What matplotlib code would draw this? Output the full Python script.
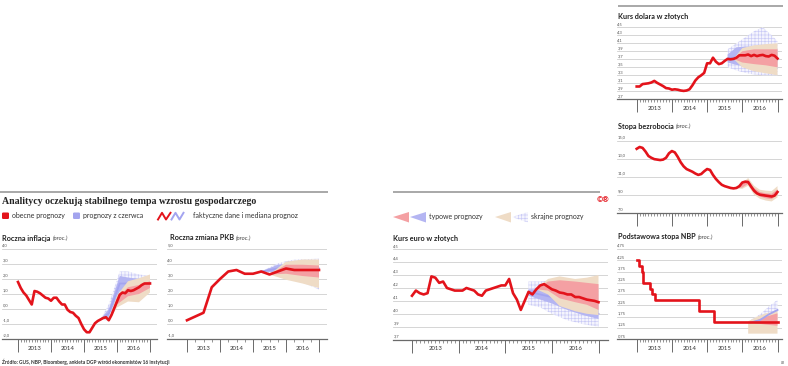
import matplotlib
matplotlib.use('Agg')
import matplotlib.pyplot as plt
import numpy as np
from matplotlib.patches import FancyBboxPatch, Polygon

plt.rcParams['font.family'] = ['Lato', 'DejaVu Sans']
plt.rcParams['hatch.linewidth'] = 0.45

# ---------------- data ----------------
years = [2013, 2014, 2015, 2016]

# monthly series, month 0 = start of 2013
inflacja = [1.8, 1.4, 1.1, 0.9, 0.6, 0.3, 1.2, 1.15, 1.05, 0.9, 0.75, 0.7,
            0.55, 0.75, 0.75, 0.5, 0.3, 0.3, -0.05, -0.2, -0.25, -0.45, -0.6, -1.0,
            -1.35, -1.55, -1.55, -1.25, -0.95, -0.8, -0.7, -0.6, -0.55, -0.75, -0.4, 0.05,
            0.5, 0.95, 1.1, 1.05, 1.25, 1.2, 1.25, 1.35, 1.45, 1.6, 1.7, 1.7, 1.7]
inf_cur_t = [33, 36, 40, 44, 48]
inf_cur_typ_lo = [-0.75, 0.3, 0.85, 1.0, 1.4]
inf_cur_typ_hi = [-0.75, 0.7, 1.45, 1.6, 1.85]
inf_cur_skr_lo = [-0.75, 0.1, 0.5, 0.45, 1.1]
inf_cur_skr_hi = [-0.75, 0.9, 1.85, 2.05, 2.3]
inf_jun_t = [30, 33, 37, 40, 44, 48]
inf_jun_med = [-0.7, -0.3, 1.7, 1.7, 1.7, 1.75]
inf_jun_typ_lo = [-0.7, -0.5, 1.2, 1.3, 1.3, 1.4]
inf_jun_typ_hi = [-0.7, 0.0, 2.2, 2.1, 2.0, 1.9]
inf_jun_skr_lo = [-0.7, -0.8, 0.8, 1.0, 1.0, 1.1]
inf_jun_skr_hi = [-0.7, 0.3, 2.5, 2.5, 2.3, 2.2]

# quarterly GDP, quarter 0 = start of 2013
pkb = [0.25, 0.5, 0.75, 2.45, 3.0, 3.5, 3.6, 3.35, 3.35, 3.5, 3.3, 3.5, 3.7, 3.6, 3.6, 3.6, 3.6]
pkb_cur_t = [10, 12, 14, 16]
pkb_cur_typ_lo = [3.3, 3.35, 3.2, 3.1]
pkb_cur_typ_hi = [3.3, 3.95, 3.95, 3.9]
pkb_cur_skr_lo = [3.3, 2.95, 2.7, 2.4]
pkb_cur_skr_hi = [3.3, 4.15, 4.3, 4.3]
pkb_jun_t = [9, 11, 13, 16]
pkb_jun_med = [3.5, 3.7, 3.75, 3.7]
pkb_jun_typ_lo = [3.5, 3.45, 3.4, 3.4]
pkb_jun_typ_hi = [3.5, 3.95, 4.05, 4.0]
pkb_jun_skr_lo = [3.5, 3.2, 3.0, 2.3]
pkb_jun_skr_hi = [3.5, 4.05, 4.3, 4.35]

euro = [4.14, 4.18, 4.16, 4.15, 4.16, 4.29, 4.28, 4.24, 4.25, 4.20, 4.19, 4.18,
        4.18, 4.18, 4.20, 4.19, 4.18, 4.15, 4.14, 4.18, 4.19, 4.20, 4.21, 4.22,
        4.22, 4.27, 4.16, 4.11, 4.03, 4.10, 4.17, 4.15, 4.19, 4.22, 4.23, 4.21,
        4.19, 4.18, 4.165, 4.16, 4.15, 4.15, 4.13, 4.13, 4.12, 4.11, 4.105, 4.10, 4.09]
eur_cur_t = [32, 35, 38, 42, 45, 48]
eur_cur_typ_lo = [4.19, 4.18, 4.12, 4.09, 4.07, 4.03]
eur_cur_typ_hi = [4.19, 4.25, 4.26, 4.25, 4.24, 4.23]
eur_cur_skr_lo = [4.19, 4.15, 4.06, 4.02, 4.00, 3.99]
eur_cur_skr_hi = [4.19, 4.27, 4.29, 4.27, 4.28, 4.30]
eur_jun_t = [30, 33, 36, 40, 44, 48]
eur_jun_med = [4.17, 4.15, 4.13, 4.08, 4.03, 4.0]
eur_jun_typ_lo = [4.14, 4.11, 4.08, 4.03, 3.99, 3.96]
eur_jun_typ_hi = [4.19, 4.19, 4.19, 4.17, 4.13, 4.10]
eur_jun_skr_lo = [4.07, 4.05, 4.0, 3.95, 3.92, 3.9]
eur_jun_skr_hi = [4.25, 4.25, 4.26, 4.25, 4.22, 4.2]

dolar = [3.02, 3.02, 3.08, 3.09, 3.10, 3.12, 3.16, 3.11, 3.07, 3.03, 2.98, 2.97,
         2.94, 2.95, 2.94, 2.92, 2.91, 2.92, 2.95, 3.05, 3.17, 3.25, 3.30, 3.36,
         3.60, 3.60, 3.74, 3.64, 3.58, 3.60, 3.66, 3.71, 3.70, 3.71, 3.74, 3.80,
         3.80, 3.80, 3.82, 3.78, 3.81, 3.78, 3.80, 3.81, 3.78, 3.77, 3.81, 3.79, 3.72]
usd_cur_t = [33, 36, 40, 44, 48]
usd_cur_typ_lo = [3.71, 3.62, 3.58, 3.55, 3.5]
usd_cur_typ_hi = [3.71, 3.9, 3.95, 3.95, 3.95]
usd_cur_skr_lo = [3.71, 3.5, 3.4, 3.35, 3.3]
usd_cur_skr_hi = [3.71, 3.98, 4.05, 4.08, 4.1]
usd_jun_t = [31, 34, 37, 40, 43, 46, 48]
usd_jun_med = [3.72, 3.75, 3.77, 3.76, 3.74, 3.72, 3.7]
usd_jun_typ_lo = [3.62, 3.56, 3.52, 3.5, 3.48, 3.46, 3.45]
usd_jun_typ_hi = [3.82, 4.0, 4.02, 4.02, 4.0, 3.98, 3.95]
usd_jun_skr_lo = [3.5, 3.42, 3.36, 3.32, 3.3, 3.3, 3.3]
usd_jun_skr_hi = [3.95, 4.1, 4.25, 4.4, 4.5, 4.3, 4.15]

bezrobocie = [14.1, 14.3, 14.2, 13.8, 13.3, 13.1, 12.95, 12.9, 12.85, 12.9, 13.1, 13.6,
              13.85, 13.7, 13.2, 12.6, 12.15, 11.85, 11.7, 11.55, 11.35, 11.2, 11.3, 11.6,
              11.85, 11.75, 11.2, 10.75, 10.4, 10.1, 9.95, 9.85, 9.75, 9.7, 9.75, 9.95,
              10.35, 10.45, 10.4, 9.9, 9.45, 9.15, 9.0, 8.95, 8.9, 8.85, 8.8, 8.9, 9.3]
bez_cur_t = [33, 36, 38, 40, 42, 44, 46, 48]
bez_cur_typ_lo = [9.7, 9.8, 10.2, 9.2, 8.8, 8.6, 8.5, 9.0]
bez_cur_typ_hi = [9.7, 10.15, 10.65, 9.75, 9.3, 9.15, 9.1, 9.6]
bez_cur_skr_lo = [9.7, 9.65, 10.0, 9.0, 8.55, 8.35, 8.25, 8.7]
bez_cur_skr_hi = [9.7, 10.3, 10.85, 10.0, 9.55, 9.45, 9.4, 9.95]

nbp_change_m = [0, 0.9, 1.7, 2.3, 4.5, 5.3, 6.25, 21.4, 26.5, 48]
nbp_rate = [4.25, 4.0, 3.75, 3.25, 3.0, 2.75, 2.5, 2.0, 1.5, 1.5]
nbp_cur_t = [38, 41, 44, 48]
nbp_cur_typ_lo = [1.5, 1.45, 1.4, 1.35]
nbp_cur_typ_hi = [1.5, 1.6, 1.75, 1.9]
nbp_cur_skr_lo = [1.0, 1.0, 1.0, 1.0]
nbp_cur_skr_hi = [1.55, 1.75, 1.9, 2.0]
nbp_jun_t = [39, 42, 45, 48]
nbp_jun_med = [1.5, 1.6, 1.85, 2.05]
nbp_jun_skr_lo = [1.4, 1.4, 1.4, 1.4]
nbp_jun_skr_hi = [1.62, 1.85, 2.2, 2.5]

# ---------------- style ----------------
RED = '#e3131b'; PINK = '#f4a0a3'; BEIGE = '#efdcc6'; BLUE = '#b4b5f2'
HATCHC = '#c9caf6'; HFACE = '#f4f4fd'; BLUEL = '#a3a4f0'; GRID = '#cfcfcf'; AXC = '#6a6a6a'
TXT = '#333333'

W, H = 788, 366
fig = plt.figure(figsize=(W / 100, H / 100), dpi=100)
ov = fig.add_axes([0, 0, 1, 1])
ov.set_xlim(0, W); ov.set_ylim(H, 0); ov.axis('off')


def mt(m):
    return 2013 + np.asarray(m, dtype=float) / 12


def qt(q):
    return 2013 + np.asarray(q, dtype=float) / 4


def panel(gx0, gx1, ytop, ybot, a, b, vals, labels, minor_step, show_years=True):
    vtop, vbot = vals[0], vals[-1]
    ax = fig.add_axes([gx0 / W, 1 - ybot / H, (gx1 - gx0) / W, (ybot - ytop) / H])
    x0 = 2013 + (gx0 - a) / (b - a) * 4
    x1 = 2013 + (gx1 - a) / (b - a) * 4
    ax.set_xlim(x0, x1); ax.set_ylim(vbot, vtop)
    ax.patch.set_visible(False)
    for s in ('top', 'left', 'right'):
        ax.spines[s].set_visible(False)
    ax.spines['bottom'].set_color(AXC); ax.spines['bottom'].set_linewidth(0.9)
    ax.set_yticks([])
    ax.set_xticks(np.arange(2013, 2018)); ax.set_xticklabels([])
    minors = [m for m in np.arange(2013, 2017.0001, minor_step) if abs(m - round(m)) > 1e-6]
    ax.set_xticks(minors, minor=True)
    ax.tick_params(axis='x', which='major', length=9, width=0.7, color=AXC)
    ax.tick_params(axis='x', which='minor', length=2.3, width=0.5, color=AXC)
    for v, lab in zip(vals, labels):
        if v != vbot:
            ax.axhline(v, color=GRID, lw=0.6, zorder=0)
        ax.annotate(lab, (0, v), xycoords=('axes fraction', 'data'), xytext=(0.3, 0.9),
                    textcoords='offset points', fontsize=3, color='#555555',
                    va='bottom', ha='left')
    if show_years:
        for yv in years:
            ax.annotate(str(yv), (yv + 0.5, 0), xycoords=('data', 'axes fraction'),
                        xytext=(0, -6.6), textcoords='offset points', ha='center',
                        va='center', fontsize=4.3, color=TXT)
    return ax


def fill(ax, t, lo, hi, kind, z):
    if kind == 'hatch':
        ax.fill_between(t, lo, hi, facecolor=HFACE, edgecolor=HATCHC, hatch='+++++',
                        linewidth=0, zorder=z)
    else:
        ax.fill_between(t, lo, hi, facecolor=kind, linewidth=0, zorder=z)


LW = 1.9

# ---- Roczna inflacja
ax = panel(2, 157, 249, 339, 18, 150, [4, 3, 2, 1, 0, -1, -2],
           ['4,0', '3,0', '2,0', '1,0', '0,0', '-1,0', '-2,0'], 1 / 12)
fill(ax, mt(inf_jun_t), inf_jun_skr_lo, inf_jun_skr_hi, 'hatch', 1)
fill(ax, mt(inf_jun_t), inf_jun_typ_lo, inf_jun_typ_hi, BLUE, 2)
ax.plot(mt(inf_jun_t), inf_jun_med, color=BLUEL, lw=1.3, zorder=2.5)
fill(ax, mt(inf_cur_t), inf_cur_skr_lo, inf_cur_skr_hi, BEIGE, 3)
fill(ax, mt(inf_cur_t), inf_cur_typ_lo, inf_cur_typ_hi, PINK, 4)
ax.plot(mt(range(len(inflacja))), inflacja, color=RED, lw=LW, zorder=6, solid_joinstyle='round')

# ---- Roczna zmiana PKB
ax = panel(167, 327, 249, 339, 187, 319, [5, 4, 3, 2, 1, 0, -1],
           ['5,0', '4,0', '3,0', '2,0', '1,0', '0,0', '-1,0'], 0.25)
fill(ax, qt(pkb_jun_t), pkb_jun_skr_lo, pkb_jun_skr_hi, 'hatch', 1)
fill(ax, qt(pkb_jun_t), pkb_jun_typ_lo, pkb_jun_typ_hi, BLUE, 2)
ax.plot(qt(pkb_jun_t), pkb_jun_med, color=BLUEL, lw=1.3, zorder=2.5)
fill(ax, qt(pkb_cur_t), pkb_cur_skr_lo, pkb_cur_skr_hi, BEIGE, 3)
fill(ax, qt(pkb_cur_t), pkb_cur_typ_lo, pkb_cur_typ_hi, PINK, 4)
ax.plot(qt(range(len(pkb))), pkb, color=RED, lw=LW, zorder=6, solid_joinstyle='round')

# ---- Kurs euro
ax = panel(393, 608, 249.3, 339.6, 412, 598.5, [4.5, 4.4, 4.3, 4.2, 4.1, 4.0, 3.9, 3.8],
           ['4,5', '4,4', '4,3', '4,2', '4,1', '4,0', '3,9', '3,7'], 1 / 12)
fill(ax, mt(eur_jun_t), eur_jun_skr_lo, eur_jun_skr_hi, 'hatch', 1)
fill(ax, mt(eur_jun_t), eur_jun_typ_lo, eur_jun_typ_hi, BLUE, 2)
ax.plot(mt(eur_jun_t), eur_jun_med, color=BLUEL, lw=1.3, zorder=2.5)
fill(ax, mt(eur_cur_t), eur_cur_skr_lo, eur_cur_skr_hi, BEIGE, 3)
fill(ax, mt(eur_cur_t), eur_cur_typ_lo, eur_cur_typ_hi, PINK, 4)
ax.plot(mt(range(len(euro))), euro, color=RED, lw=LW, zorder=6, solid_joinstyle='round')

# ---- Kurs dolara
ax = panel(617, 782, 27.3, 99.3, 636.7, 777.5,
           [4.5, 4.3, 4.1, 3.9, 3.7, 3.5, 3.3, 3.1, 2.9, 2.7],
           ['4,5', '4,3', '4,1', '3,9', '3,7', '3,5', '3,3', '3,1', '2,9', '2,7'], 1 / 12)
fill(ax, mt(usd_jun_t), usd_jun_skr_lo, usd_jun_skr_hi, 'hatch', 1)
fill(ax, mt(usd_jun_t), usd_jun_typ_lo, usd_jun_typ_hi, BLUE, 2)
ax.plot(mt(usd_jun_t), usd_jun_med, color=BLUEL, lw=1.3, zorder=2.5)
fill(ax, mt(usd_cur_t), usd_cur_skr_lo, usd_cur_skr_hi, BEIGE, 3)
fill(ax, mt(usd_cur_t), usd_cur_typ_lo, usd_cur_typ_hi, PINK, 4)
ax.plot(mt(range(len(dolar))), dolar, color=RED, lw=LW, zorder=6, solid_joinstyle='round')

# ---- Stopa bezrobocia
ax = panel(617, 782, 140.7, 212.7, 636.7, 777.5, [15, 13, 11, 9, 7],
           ['15,0', '13,0', '11,0', '9,0', '7,0'], 1 / 12, show_years=False)
fill(ax, mt(bez_cur_t), bez_cur_skr_lo, bez_cur_skr_hi, BEIGE, 3)
fill(ax, mt(bez_cur_t), bez_cur_typ_lo, bez_cur_typ_hi, PINK, 4)
ax.plot(mt(range(len(bezrobocie))), bezrobocie, color=RED, lw=LW, zorder=6, solid_joinstyle='round')

# ---- Podstawowa stopa NBP
ax = panel(617, 782, 249, 339.3, 636.7, 777.5,
           [4.75, 4.25, 3.75, 3.25, 2.75, 2.25, 1.75, 1.25, 0.75],
           ['4,75', '4,25', '3,75', '3,25', '2,75', '2,25', '1,75', '1,25', '0,75'], 1 / 12)
fill(ax, mt(nbp_jun_t), nbp_jun_skr_lo, nbp_jun_skr_hi, 'hatch', 1)
fill(ax, mt(nbp_cur_t), nbp_cur_skr_lo, nbp_cur_skr_hi, BEIGE, 3)
fill(ax, mt(nbp_cur_t), nbp_cur_typ_lo, nbp_cur_typ_hi, PINK, 4)
ax.plot(mt(nbp_jun_t), nbp_jun_med, color=BLUEL, lw=1.3, zorder=5)
ax.step(mt(nbp_change_m), nbp_rate, where='post', color=RED, lw=LW, zorder=6)

# ---------------- overlay texts / legend ----------------
ov.plot([0, 328], [192, 192], color='#a8a8a8', lw=1.4, solid_capstyle='butt')
ov.plot([393, 600], [192, 192], color='#a8a8a8', lw=1.4, solid_capstyle='butt')
ov.plot([618, 783], [6, 6], color='#a8a8a8', lw=1.4, solid_capstyle='butt')

ov.text(2, 201, 'Analitycy oczekują stabilnego tempa wzrostu gospodarczego',
        family='Liberation Serif', fontweight='bold', fontsize=7.1, color='#222222',
        va='center', ha='left')
ov.text(597, 200, '©®', color=RED, fontsize=5.5, fontweight='bold', va='center', ha='left')

ov.add_patch(FancyBboxPatch((2, 212.5), 7, 6.5, boxstyle='round,pad=0,rounding_size=1.2',
                            fc=RED, ec='none'))
ov.text(12, 215.8, 'obecne prognozy', fontsize=5, color=TXT, va='center')
ov.add_patch(FancyBboxPatch((73, 212.5), 7, 6.5, boxstyle='round,pad=0,rounding_size=1.2',
                            fc='#a3a4ee', ec='none'))
ov.text(83, 215.8, 'prognozy z czerwca', fontsize=5, color=TXT, va='center')
ov.plot([158, 162, 166, 170.5], [219.5, 212.8, 219.5, 212.8], color=RED, lw=1.4)
ov.plot([171.5, 175.5, 179.5, 183.5], [219.5, 212.8, 219.5, 212.8], color=BLUEL, lw=1.4)
ov.text(193, 215.8, 'faktyczne dane i mediana prognoz', fontsize=5, color=TXT, va='center')

ov.add_patch(Polygon([(393, 217), (409, 212), (409, 222.5)], closed=True, fc=PINK, ec='none'))
ov.add_patch(Polygon([(410, 217), (426, 212), (426, 222.5)], closed=True, fc=BLUE, ec='none'))
ov.text(429, 217, 'typowe prognozy', fontsize=5, color=TXT, va='center')
ov.add_patch(Polygon([(495, 217), (511, 212), (511, 222.5)], closed=True, fc=BEIGE, ec='none'))
ov.add_patch(Polygon([(512, 217), (528, 212), (528, 222.5)], closed=True, fc=HFACE,
                     ec=HATCHC, hatch='+++++', lw=0))
ov.text(531, 217, 'skrajne prognozy', fontsize=5, color=TXT, va='center')

renderer = fig.canvas.get_renderer()


def ptitle(x, y, main, sub=None):
    t = ov.text(x, y, main, fontsize=5.2, fontweight='bold', color='#222222', va='center')
    if sub:
        bb = t.get_window_extent(renderer=renderer)
        ov.text(bb.x1 + 2, y, sub, fontsize=4.3, style='italic', color='#444444', va='center')


ptitle(2, 238, 'Roczna inflacja', '(proc.)')
ptitle(170, 238, 'Roczna zmiana PKB', '(proc.)')
ptitle(393, 238, 'Kurs euro w złotych')
ptitle(618, 16, 'Kurs dolara w złotych')
ptitle(618, 126, 'Stopa bezrobocia', '(proc.)')
ptitle(618, 237, 'Podstawowa stopa NBP', '(proc.)')

ov.text(2, 362, 'Źródło: GUS, NBP, Bloomberg, ankieta DGP wśród ekonomistów 16 instytucji',
        fontsize=3.5, color=TXT, va='center', fontweight='bold')
ov.text(783, 363, 'LR', fontsize=2.5, color='#555555', va='center', ha='center')

fig.savefig('out.png', dpi=100)
